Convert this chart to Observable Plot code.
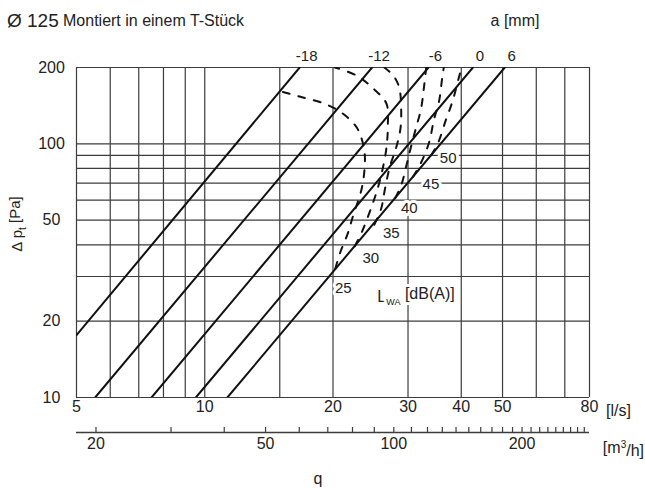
<!DOCTYPE html>
<html><head><meta charset="utf-8">
<script src="https://cdn.jsdelivr.net/npm/d3@7"></script>
<script src="https://cdn.jsdelivr.net/npm/@observablehq/plot@0.6"></script>
<style>body{margin:0;background:#fff}svg{display:block}</style>
</head><body><div id="chart"></div>
<script>
const FONT = "'Liberation Sans', Arial, Helvetica, sans-serif";

// Axes / grid (flow q in l/s, pressure drop Δp_t in Pa)
const qGrid = [5, 6, 7, 8, 9, 10, 15, 20, 30, 40, 50, 60, 70, 80];
const qTicks = [5, 10, 20, 30, 40, 50, 80];
const pGrid = [10, 20, 30, 40, 50, 60, 70, 80, 90, 100, 200];
const pTicks = [10, 20, 50, 100, 200];
const m3hTicks = [20, 30, 40, 50, 60, 70, 80, 90, 100, 110, 120, 130, 140, 150, 160, 170, 180, 190, 200, 210, 220, 230, 240, 250, 260, 270, 280];
const m3hLabels = [20, 50, 100, 200];

// Damper setting a [mm]: straight lines (start / end points q, Δp)
const aSettings = [-18, -12, -6, 0, 6];
const lineStartQ = [5, 5.53, 7.5, 9.53, 11.3];
const lineStartP = [17.6, 10, 10, 10, 10];
const lineEndQ = [16.7, 24.7, 33.5, 42.6, 50.6];
const lineEndP = [200, 200, 200, 200, 200];

// Sound power level L_WA [dB(A)] contours (dashed), from a = 6 line upward
const lwaLevels = [25, 30, 35, 40, 45, 50];
const lwa25Q = [20.25, 20.8, 21.7, 22.3, 23.3, 23.7, 23.7, 23.0, 22.3, 20.9, 19.1, 16.6, 15.1];
const lwa25P = [32.2, 37.3, 44.7, 52.2, 65.5, 78.5, 94, 112, 121, 133, 144, 154, 161];
const lwa30Q = [22.5, 23.4, 24.6, 25.5, 26.2, 26.7, 26.9, 26.7, 24.9, 22.7, 20.2];
const lwa30P = [39.5, 45.1, 56.1, 67.3, 80.7, 96.7, 118, 144, 165, 186, 200];
const lwa35Q = [25.0, 25.95, 26.5, 27.2, 28.1, 28.8, 28.9, 28.6, 27.7, 26.4];
const lwa35P = [48.0, 55.6, 66.7, 81.4, 95.8, 115, 139, 167, 186, 200];
const lwa40Q = [28.0, 28.9, 29.7, 30.5, 31.3, 32.2, 32.7, 33.1];
const lwa40P = [61.2, 68.5, 81.4, 97.6, 115, 138, 167, 200];
const lwa45Q = [30.8, 32.2, 33.6, 34.5, 35.5, 36.1, 36.4];
const lwa45P = [74, 84.4, 101, 124, 148, 183, 200];
const lwa50Q = [34.0, 35.3, 36.8, 38.2, 39.5, 40.1];
const lwa50P = [90.2, 101, 124, 148, 183, 200];

// Annotation anchor for the L_WA unit label
const lwaUnitQ = 30, lwaUnitP = 25;

// ---- build tables ----
const lines = aSettings.flatMap((a, i) => [
  {a, q: lineStartQ[i], p: lineStartP[i]},
  {a, q: lineEndQ[i], p: lineEndP[i]}
]);
const lineTops = aSettings.map((a, i) => ({a, q: lineEndQ[i], p: lineEndP[i]}));
const contourQ = [lwa25Q, lwa30Q, lwa35Q, lwa40Q, lwa45Q, lwa50Q];
const contourP = [lwa25P, lwa30P, lwa35P, lwa40P, lwa45P, lwa50P];
const contours = lwaLevels.flatMap((L, i) => contourQ[i].map((q, j) => ({L, q, p: contourP[i][j]})));
const contourBases = lwaLevels.map((L, i) => ({L, q: contourQ[i][0], p: contourP[i][0]}));

// label offsets (pixels) from each contour's start point
const labelOffsets = [[8, 20], [16, 12], [17, 8], [14, 10], [18, 7], [17, 3]];
const halo = {fill: "#222", stroke: "white", strokeWidth: 6, paintOrder: "stroke"};

const chart = Plot.plot({
  width: 645,
  height: 488,
  marginLeft: 76,
  marginRight: 56,
  marginTop: 67,
  marginBottom: 91,
  style: {fontFamily: FONT, fontSize: "16px", color: "#222", background: "#fff"},
  x: {type: "log", domain: [5, 80], axis: null},
  y: {type: "log", domain: [10, 200], axis: null},
  marks: [
    Plot.ruleX(qGrid, {stroke: "#3c3c3c", strokeWidth: 1.2}),
    Plot.ruleY(pGrid, {stroke: "#3c3c3c", strokeWidth: 1.2}),
    Plot.line(lines, {x: "q", y: "p", z: "a", stroke: "#111", strokeWidth: 2, clip: true}),
    Plot.line(contours, {x: "q", y: "p", z: "L", stroke: "#111", strokeWidth: 2, strokeDasharray: "7,9", curve: "catmull-rom", clip: true}),
    // tick labels
    Plot.text(qTicks, {x: d => d, text: d => String(d), frameAnchor: "bottom", dy: 14, fontSize: 16, fill: "#222"}),
    Plot.text(pTicks, {y: d => d, text: d => String(d), frameAnchor: "left", dx: -25, textAnchor: "middle", fontSize: 16, fill: "#222"}),
    Plot.text(lineTops, {x: "q", text: d => String(d.a), frameAnchor: "top", dy: -17, dx: 7, fontSize: 15, fill: "#222"}),
    ...contourBases.map((b, i) => Plot.text([b], {x: "q", y: "p", text: d => String(d.L), dx: labelOffsets[i][0], dy: labelOffsets[i][1], fontSize: 15, ...halo})),
    Plot.text(["LWA [dB(A)]"], {x: () => lwaUnitQ, y: () => lwaUnitP, text: d => d, dx: 8, fontSize: 16, ...halo}),
    // secondary flow axis in m³/h (q[l/s] = m³/h / 3.6)
    Plot.ruleY([10], {dy: 35, stroke: "#3c3c3c", strokeWidth: 1.3}),
    Plot.ruleX(m3hTicks, {x: d => d / 3.6, insetTop: 360, insetBottom: -35, stroke: "#3c3c3c", strokeWidth: 1.2}),
    Plot.text(m3hLabels, {x: d => d / 3.6, text: d => String(d), frameAnchor: "bottom", dy: 51, fontSize: 16, fill: "#222"})
  ]
});
document.getElementById("chart").appendChild(chart);

// ---- extra texts with sub/superscripts ----
const svg = d3.select(chart);
svg.selectAll("text").filter(function() { return this.textContent === "LWA [dB(A)]"; })
  .each(function() {
    const t = d3.select(this);
    t.text(null);
    t.append("tspan").text("L");
    t.append("tspan").attr("font-size", "9px").attr("dy", "0.35em").text("WA");
    t.append("tspan").attr("dy", "-0.35em").text(" [dB(A)]");
  });

const add = (x, y, txt, opts = {}) => {
  const t = svg.append("text").attr("x", x).attr("y", y)
    .attr("font-family", FONT).attr("font-size", opts.size || 15).attr("fill", "#222")
    .attr("text-anchor", opts.anchor || "start");
  return t.text(txt);
};
add(7, 27, "Ø 125", {size: 19});
add(63, 26, "Montiert in einem T-Stück", {size: 16});
add(515, 26, "a [mm]", {size: 16, anchor: "middle"});
add(606, 416, "[l/s]", {size: 16});
const m3 = add(644, 453, "", {size: 16, anchor: "end"});
m3.append("tspan").text("[m");
m3.append("tspan").attr("font-size", "10px").attr("dy", "-0.5em").text("3");
m3.append("tspan").attr("dy", "0.5em").text("/h]");
add(318, 484, "q", {size: 16, anchor: "middle"});
const yl = svg.append("text").attr("transform", "translate(22,224) rotate(-90)")
  .attr("font-family", FONT).attr("font-size", 15).attr("fill", "#222").attr("text-anchor", "middle");
yl.append("tspan").text("Δ p");
yl.append("tspan").attr("font-size", "10px").attr("dy", "0.35em").text("t");
yl.append("tspan").attr("dy", "-0.35em").text(" [Pa]");
</script>
</body></html>
